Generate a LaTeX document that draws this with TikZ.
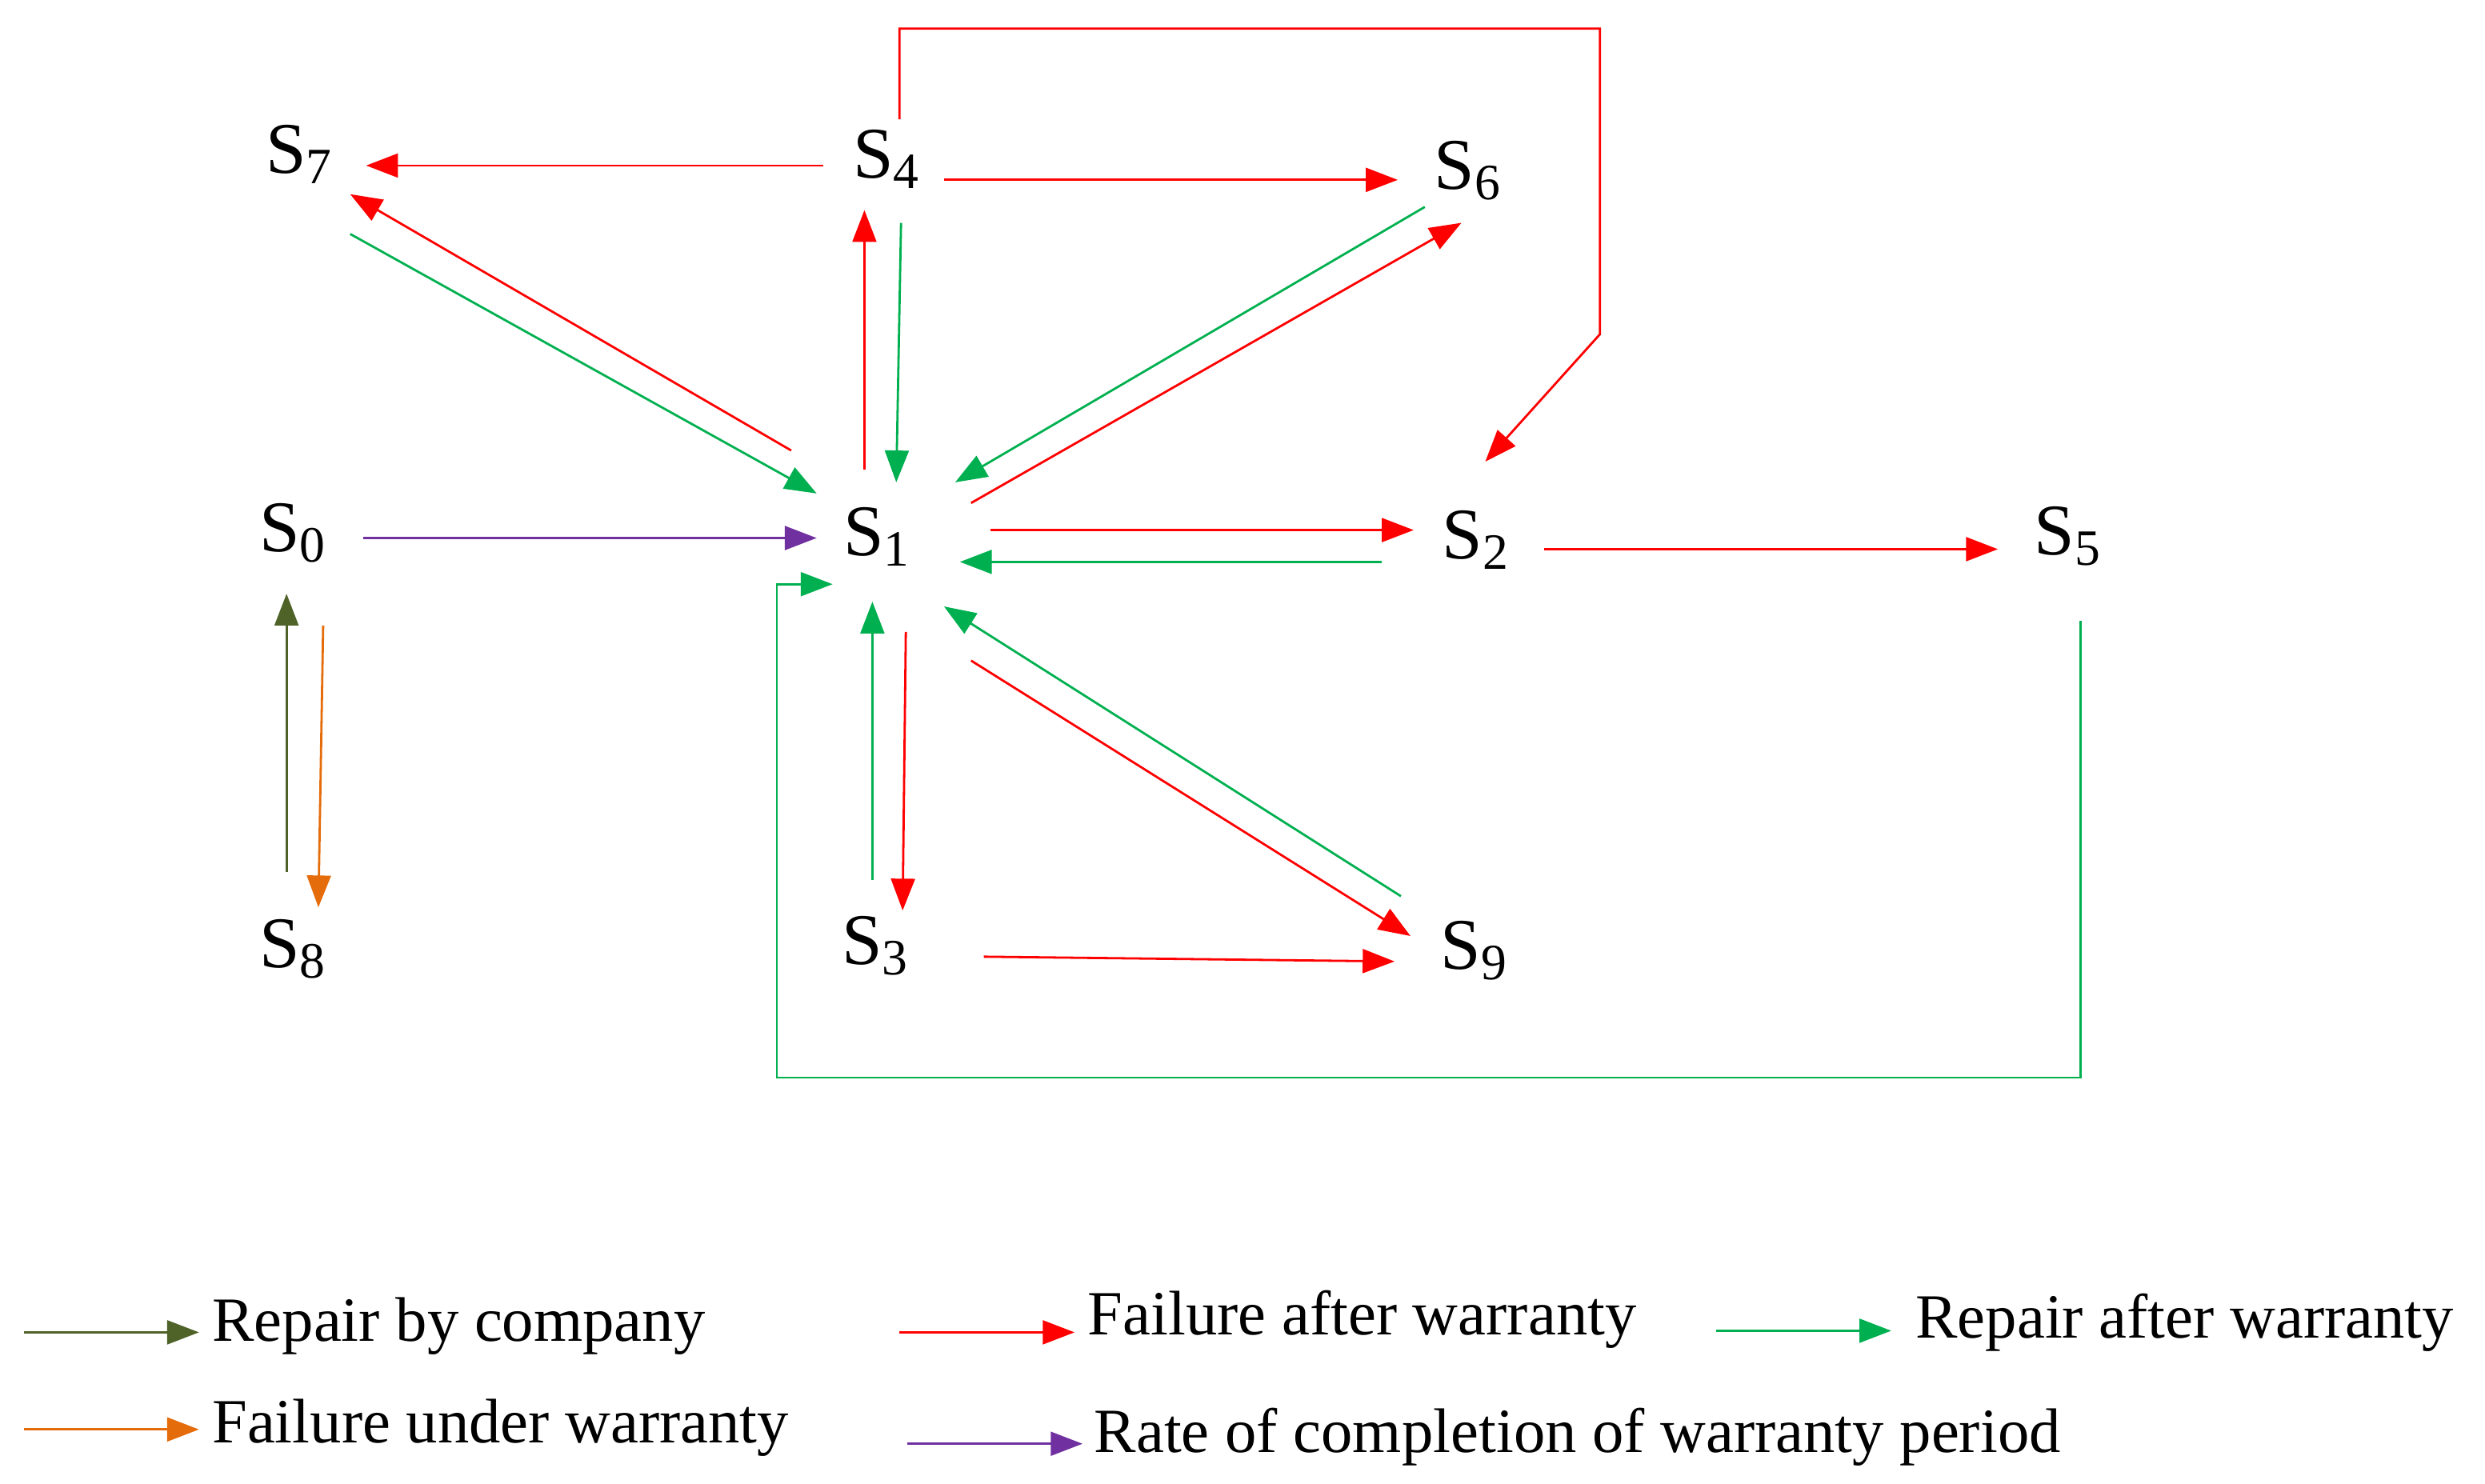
\documentclass[tikz,border=0pt]{standalone}
\usepackage{fontspec}
\setmainfont{Liberation Serif}
\usetikzlibrary{arrows.meta}
\definecolor{rd}{HTML}{FF0000}
\definecolor{gr}{HTML}{00B050}
\definecolor{ol}{HTML}{4F6228}
\definecolor{or}{HTML}{E46C0A}
\definecolor{pu}{HTML}{7030A0}
\begin{document}
\begin{tikzpicture}[x=0.02cm,y=-0.02cm,
  st/.style={font=\fontsize{26}{28}\selectfont,inner sep=0pt},
  a/.style={line width=0.8pt,-{Triangle[length=0.4cm,width=0.3cm]}},
  lg/.style={font=\fontsize{22.5}{25}\selectfont,anchor=west,inner sep=0pt}]
\useasboundingbox (0,0) rectangle (1561,932);
\node[st] (s7) at (188,97) {S\textsubscript{7}};
\node[st] (s4) at (557,100) {S\textsubscript{4}};
\node[st] (s6) at (922,107) {S\textsubscript{6}};
\node[st] (s0) at (184,335) {S\textsubscript{0}};
\node[st] (s1) at (551,337) {S\textsubscript{1}};
\node[st] (s2) at (927,339) {S\textsubscript{2}};
\node[st] (s5) at (1299,337) {S\textsubscript{5}};
\node[st] (s8) at (184,596) {S\textsubscript{8}};
\node[st] (s3) at (550,594) {S\textsubscript{3}};
\node[st] (s9) at (926,597) {S\textsubscript{9}};
\draw[a,rd] (517,104) -- (230,104);
\draw[a,rd] (593,113) -- (878,113);
\draw[a,rd] (565,75) -- (565,18) -- (1005,18) -- (1005,210) -- (933,290);
\draw[a,rd] (497,283) -- (220,122);
\draw[a,gr] (220,147) -- (513,310);
\draw[a,rd] (543,295) -- (543,132);
\draw[a,gr] (566,140) -- (563,303);
\draw[a,gr] (895,130) -- (600,303);
\draw[a,rd] (610,316) -- (918,140);
\draw[a,pu] (228,338) -- (513,338);
\draw[a,rd] (622,333) -- (888,333);
\draw[a,gr] (868,353) -- (603,353);
\draw[a,rd] (970,345) -- (1255,345);
\draw[a,gr] (1307,390) -- (1307,677) -- (488,677) -- (488,367) -- (523,367);
\draw[a,ol] (180,548) -- (180,373);
\draw[a,or] (203,393) -- (200,570);
\draw[a,gr] (548,553) -- (548,378);
\draw[a,rd] (569,397) -- (567,572);
\draw[a,rd] (610,415) -- (886,588);
\draw[a,gr] (880,563) -- (593,381);
\draw[a,rd] (618,601) -- (876,604);
% legend
\draw[a,ol] (15,837) -- (125,837);
\node[lg] (l1) at (133,833) {Repair by company};
\draw[a,or] (15,898) -- (125,898);
\node[lg] (l2) at (133,897) {Failure under warranty};
\draw[a,rd] (565,837) -- (675,837);
\node[lg] (l3) at (683,829) {Failure after warranty};
\draw[a,gr] (1078,836) -- (1188,836);
\node[lg] (l4) at (1203,831) {Repair after warranty};
\draw[a,pu] (570,907) -- (680,907);
\node[lg] (l5) at (687,903) {Rate of completion of warranty period};
\end{tikzpicture}
\end{document}
